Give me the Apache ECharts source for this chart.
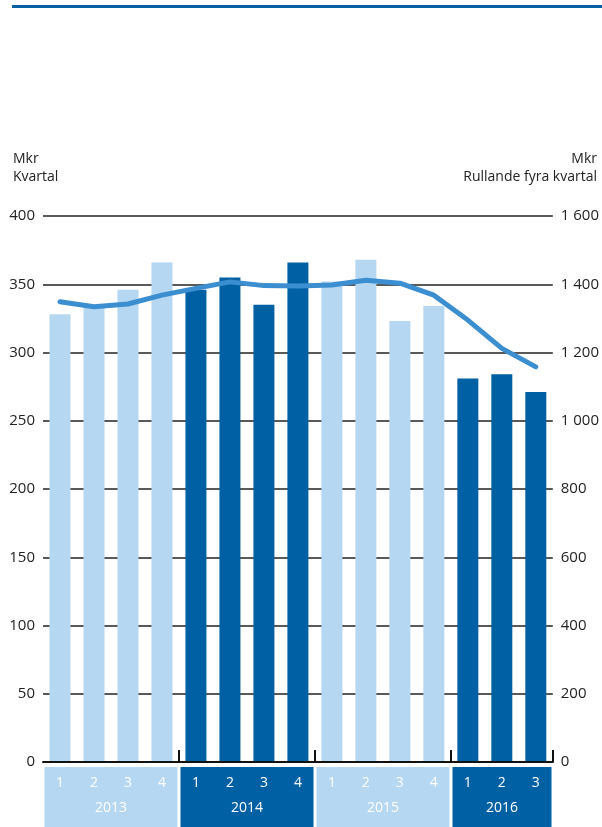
<!DOCTYPE html>
<html>
<head>
    <meta charset="UTF-8">
    <script src="https://cdn.jsdelivr.net/npm/echarts@6.0.0/dist/echarts.min.js"></script>
    <style>
        html, body { margin: 0; padding: 0; background: #fff; }
        #main { width: 602px; height: 827px; }
    </style>
</head>
<body>
<div id="main"></div>
<script type="text/javascript">
    // kvartal-labels och år
    var quarters = ['1', '2', '3', '4', '1', '2', '3', '4', '1', '2', '3', '4', '1', '2', '3'];
    var years = ['2013', '2014', '2015', '2016'];
    var quartersPerYear = [4, 4, 4, 3];
    // Mkr per kvartal (vänster axel)
    var kvartal = [328, 334, 346, 366, 346, 355, 335, 366, 352, 368, 323, 334, 281, 284, 271];
    // Mkr rullande fyra kvartal (höger axel)
    var rullande = [1349, 1334, 1342, 1368, 1388, 1407, 1396, 1395, 1398, 1412, 1403, 1368, 1295, 1212, 1158];

    var light = '#b6d7f1';
    var dark = '#0060a4';
    var lineColor = '#3b8fd0';
    var font = 'Open Sans';

    // år-rutor under x-axeln
    var yearSpans = [];
    var start = 0;
    for (var i = 0; i < quartersPerYear.length; i++) {
        yearSpans.push([start, start + quartersPerYear[i]]);
        start += quartersPerYear[i];
    }

    function yearOf(idx) {
        var s = 0;
        for (var k = 0; k < quartersPerYear.length; k++) {
            s += quartersPerYear[k];
            if (idx < s) return k;
        }
        return quartersPerYear.length - 1;
    }

    function thousands(v) {
        if (v >= 1000) {
            var r = String(v % 1000);
            while (r.length < 3) r = '0' + r;
            return Math.floor(v / 1000) + ' ' + r;
        }
        return String(v);
    }

    var myChart = echarts.init(document.getElementById('main'));
    var option = {
        animation: false,
        textStyle: {fontFamily: font},
        graphic: [{
            type: 'rect',
            shape: {x: 12, y: 5, width: 590, height: 3},
            style: {fill: dark}
        }, {
            type: 'text',
            x: 13, y: 150,
            style: {
                text: 'Mkr\nKvartal',
                font: '14px "' + font + '"',
                fill: '#222',
                lineHeight: 18,
                align: 'left'
            }
        }, {
            type: 'text',
            x: 597, y: 150,
            style: {
                text: 'Mkr\nRullande fyra kvartal',
                font: '14px "' + font + '"',
                fill: '#222',
                lineHeight: 18,
                align: 'right'
            }
        }],
        grid: [
            {left: 43, right: 49, top: 216, bottom: 65},
            {left: 43, right: 49, top: 767, bottom: 0}
        ],
        xAxis: [{
            type: 'category',
            data: quarters,
            gridIndex: 0,
            z: 10,
            axisLine: {lineStyle: {color: '#111', width: 2}},
            axisTick: {
                show: true,
                inside: true,
                length: 12,
                interval: function (index) {
                    return index === 4 || index === 8 || index === 12;
                },
                lineStyle: {color: '#111', width: 2}
            },
            axisLabel: {color: '#fff', fontSize: 14, margin: 14, fontFamily: font}
        }, {
            type: 'value',
            gridIndex: 1,
            min: 0,
            max: quarters.length,
            show: false
        }],
        yAxis: [{
            type: 'value',
            min: 0, max: 400, interval: 50,
            gridIndex: 0,
            axisLine: {show: false},
            axisTick: {show: false},
            axisLabel: {color: '#222', fontSize: 15, margin: 8, fontFamily: font},
            splitLine: {lineStyle: {color: '#222', width: 1.5}}
        }, {
            type: 'value',
            min: 0, max: 1600, interval: 200,
            gridIndex: 0,
            position: 'right',
            axisLine: {show: false},
            axisTick: {show: false},
            axisLabel: {color: '#222', fontSize: 15, margin: 8, fontFamily: font, formatter: thousands},
            splitLine: {show: false}
        }, {
            type: 'value',
            gridIndex: 1,
            min: 0, max: 1,
            show: false
        }],
        series: [{
            type: 'bar',
            xAxisIndex: 0, yAxisIndex: 0,
            data: kvartal,
            barWidth: 21,
            itemStyle: {
                color: function (p) {
                    return yearOf(p.dataIndex) % 2 === 0 ? light : dark;
                }
            }
        }, {
            type: 'line',
            xAxisIndex: 0, yAxisIndex: 1,
            data: rullande,
            symbol: 'none',
            lineStyle: {color: lineColor, width: 5, cap: 'round', join: 'round'},
            z: 3
        }, {
            type: 'custom',
            xAxisIndex: 1, yAxisIndex: 2,
            data: yearSpans,
            z: 0,
            renderItem: function (params, api) {
                var a = api.coord([api.value(0), 1]);
                var b = api.coord([api.value(1), 0]);
                var idx = params.dataIndex;
                return {
                    type: 'group',
                    children: [{
                        type: 'rect',
                        shape: {x: a[0] + 1.5, y: a[1], width: b[0] - a[0] - 3, height: b[1] - a[1]},
                        style: {fill: idx % 2 === 0 ? light : dark}
                    }, {
                        type: 'text',
                        style: {
                            x: (a[0] + b[0]) / 2,
                            y: a[1] + 41,
                            text: years[idx],
                            fill: '#fff',
                            font: '14px "' + font + '"',
                            align: 'center',
                            verticalAlign: 'middle'
                        }
                    }]
                };
            }
        }]
    };
    myChart.setOption(option);
</script>
</body>
</html>
